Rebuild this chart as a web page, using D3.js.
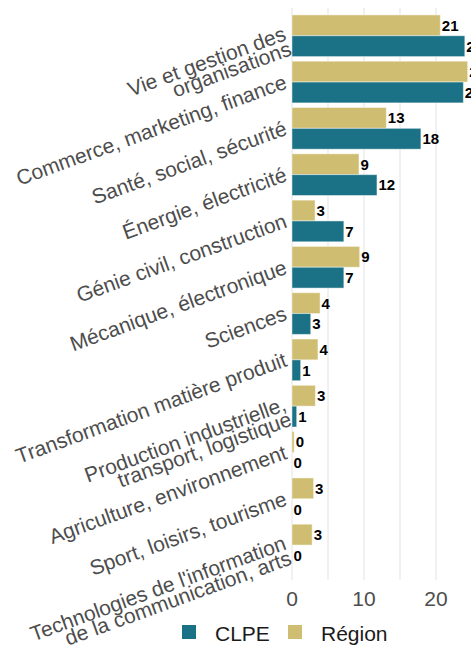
<!DOCTYPE html>
<html>
<head>
<meta charset="utf-8">
<script src="https://cdn.jsdelivr.net/npm/d3@7"></script>
<style>
  html, body { margin: 0; padding: 0; background: #ffffff; }
  svg { display: block; font-family: "Liberation Sans", Arial, sans-serif; }
</style>
</head>
<body>
<svg id="chart" width="471" height="646"></svg>
<script>
// Sectors, top to bottom; "\n" marks a line break in the axis label
const categories = [
  "Vie et gestion des\norganisations",
  "Commerce, marketing, finance",
  "Santé, social, sécurité",
  "Énergie, électricité",
  "Génie civil, construction",
  "Mécanique, électronique",
  "Sciences",
  "Transformation matière produit",
  "Production industrielle,\ntransport, logistique",
  "Agriculture, environnement",
  "Sport, loisirs, tourisme",
  "Technologies de l'information\nde la communication, arts"
];

// Shares (%) per sector
const regionValues = [20.6, 24.4, 13.1, 9.3, 3.2, 9.4, 3.9, 3.6, 3.25, 0.3, 3.0, 2.8];
const clpeValues   = [24.0, 23.8, 17.9, 11.8, 7.2, 7.2, 2.6, 1.2, 0.65, 0, 0, 0];

const seriesNames = ["Région", "CLPE"];
const xTicks = [0, 10, 20];
const xGrid = [0, 5, 10, 15, 20, 25];

const colors = { "CLPE": "#1b7185", "Région": "#cfbe72" };

const svg = d3.select("#chart");

const x = d3.scaleLinear().domain([0, 25]).range([292, 472]);

const y = d3.scaleBand()
  .domain(categories)
  .range([12.6, 568.2])
  .paddingInner(0)
  .paddingOuter(0);

const inner = d3.scaleBand()
  .domain(seriesNames)
  .range([y.bandwidth() * 0.05, y.bandwidth() * 0.95]);

const rows = categories.map((c, i) => ({
  cat: c,
  values: [
    { series: "Région", value: regionValues[i] },
    { series: "CLPE", value: clpeValues[i] }
  ]
}));

// vertical gridlines
svg.append("g")
  .selectAll("line")
  .data(xGrid)
  .join("line")
  .attr("x1", d => x(d)).attr("x2", d => x(d))
  .attr("y1", 8).attr("y2", 580)
  .attr("stroke", "#ebebeb")
  .attr("stroke-width", 1.4);

// bars
const groups = svg.append("g")
  .selectAll("g")
  .data(rows)
  .join("g")
  .attr("transform", d => `translate(0,${y(d.cat)})`);

groups.selectAll("rect")
  .data(d => d.values)
  .join("rect")
  .attr("x", x(0))
  .attr("y", d => inner(d.series))
  .attr("width", d => x(d.value) - x(0))
  .attr("height", inner.bandwidth())
  .attr("fill", d => colors[d.series])
  .attr("stroke", "#ffffff")
  .attr("stroke-opacity", 0.45)
  .attr("stroke-width", 1);

// value labels
groups.selectAll("text")
  .data(d => d.values)
  .join("text")
  .attr("x", d => x(d.value) + 1.5)
  .attr("y", d => inner(d.series) + inner.bandwidth() / 2)
  .attr("dy", "0.36em")
  .attr("font-size", 15)
  .attr("font-weight", "bold")
  .attr("fill", "#000000")
  .text(d => Math.round(d.value));

// category axis labels, rotated
const yLabels = svg.append("g")
  .selectAll("text")
  .data(categories)
  .join("text")
  .attr("transform", d => `translate(286,${y(d) + y.bandwidth() / 2}) rotate(-20)`)
  .attr("text-anchor", "end")
  .attr("font-size", 21)
  .attr("fill", "#4d4d4d");

yLabels.each(function(d) {
  const lines = d.split("\n");
  const t = d3.select(this);
  lines.forEach((line, j) => {
    t.append("tspan")
      .attr("x", 0)
      .attr("dy", j === 0 ? (lines.length > 1 ? "0.2em" : "0.3em") : "0.76em")
      .text(line);
  });
});

// value axis tick labels
svg.append("g")
  .selectAll("text")
  .data(xTicks)
  .join("text")
  .attr("x", d => x(d))
  .attr("y", 606)
  .attr("text-anchor", "middle")
  .attr("font-size", 21)
  .attr("fill", "#4d4d4d")
  .text(d => d);

// legend
const legendItems = [
  { name: "CLPE", x: 182 },
  { name: "Région", x: 288 }
];
const legend = svg.append("g")
  .selectAll("g")
  .data(legendItems)
  .join("g")
  .attr("transform", d => `translate(${d.x},625)`);

legend.append("rect")
  .attr("width", 14).attr("height", 14)
  .attr("fill", d => colors[d.name]);

legend.append("text")
  .attr("x", 33)
  .attr("y", 16)
  .attr("font-size", 21)
  .attr("fill", "#1a1a1a")
  .text(d => d.name);
</script>
</body>
</html>
